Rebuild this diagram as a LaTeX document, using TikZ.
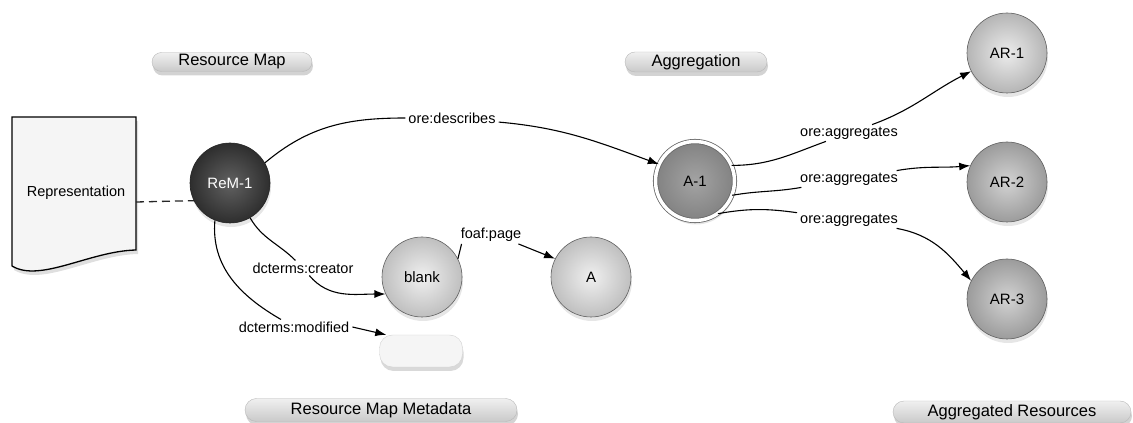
\documentclass[tikz,border=0pt]{standalone}
\usepackage{fontspec}
\setmainfont{Liberation Sans}
\usetikzlibrary{arrows.meta,shapes.misc,shadows}
\begin{document}
\begin{tikzpicture}[x=1pt,y=1pt,>={Latex[length=11pt,width=8pt]},
  res/.style={circle,minimum size=80pt,inner sep=0pt,draw=gray!75!black,line width=0.6pt,
    inner color=gray!12,outer color=gray!50,
    drop shadow={shadow xshift=1pt,shadow yshift=-4pt,opacity=0.2},
    font=\fontsize{15}{17}\selectfont},
  pill/.style={rounded rectangle,draw=gray!55,top color=gray!12,bottom color=gray!42,
    inner xsep=0pt,inner ysep=0pt,
    drop shadow={shadow xshift=1pt,shadow yshift=-4pt,opacity=0.35},
    font=\fontsize{16.5}{18}\selectfont},
  lbl/.style={fill=white,inner xsep=3pt,inner ysep=2pt,font=\fontsize{14.5}{16}\selectfont},
  link/.style={line width=1.1pt}]
\useasboundingbox (0,0) rectangle (1133,423);
\draw[line width=1.3pt,fill=gray!8,drop shadow={shadow xshift=2pt,shadow yshift=-4pt,opacity=0.25}]
  (12,306) -- (136,306) -- (136,173) .. controls (90,172) and (40,140) .. (12,157) -- cycle;
\node[font=\fontsize{14.5}{16}\selectfont] (rep) at (76,230) {Representation};
\coordinate (doc) at (136,221);

\node[pill,minimum width=160pt,minimum height=19pt] (rmap) at (232,361) {Resource Map};
\node[pill,minimum width=142pt,minimum height=20pt] (aggr) at (696,361) {Aggregation};
\node[pill,minimum width=272pt,minimum height=23pt] (meta) at (381,13) {Resource Map Metadata};
\node[pill,minimum width=238pt,minimum height=22pt] (aggres) at (1012,11) {Aggregated Resources};

\node[res,inner color=black!62,outer color=black!82,draw=black!85,text=white] (rem) at (230,240) {ReM-1};
\node[res] (blank) at (422,146) {blank};
\node[res] (A) at (591,146) {A};
\node[res,minimum size=79pt,inner color=gray!72,outer color=gray!98,draw=gray!80!black,
  line width=0.8pt,double=white,double distance=3.5pt] (a1) at (695,242) {A-1};
\node[res,inner color=gray!15,outer color=gray!58] (ar1) at (1007,370) {AR-1};
\node[res,inner color=gray!35,outer color=gray!78] (ar2) at (1007,241) {AR-2};
\node[res,inner color=gray!35,outer color=gray!78] (ar3) at (1007,124) {AR-3};
\node[rectangle,rounded corners=13pt,minimum width=83pt,minimum height=32pt,draw=gray!35,
  fill=gray!8,drop shadow={shadow xshift=1pt,shadow yshift=-4pt,opacity=0.3}] (lit) at (421,72) {};

\node[lbl] (desc) at (452,305) {ore:describes};
\node[lbl] (cre) at (303,155) {dcterms:creator};
\node[lbl] (mod) at (294,96) {dcterms:modified};
\node[lbl] (page) at (491,188) {foaf:page};
\node[lbl] (agg1) at (849,290) {ore:aggregates};
\node[lbl] (agg2) at (849,244) {ore:aggregates};
\node[lbl] (agg3) at (849,203) {ore:aggregates};

\draw[line width=1.3pt,dashed,dash pattern=on 8pt off 5pt,gray!30!black] (doc) -- (rem.206);
\draw[link] (rem.30) to[out=40,in=180] (desc);
\draw[link,->] (desc) to[out=-5,in=160] (a1.155);
\draw[link] (rem.-60) to[out=-60,in=135] (cre);
\draw[link,->] (cre) to[out=-50,in=180] (blank.205);
\draw[link] (rem.-112) to[out=-95,in=150] (mod);
\draw[link,->] (mod.east) -- (lit.155);
\draw[link] (blank.27) -- ([xshift=4pt]page.south west);
\draw[link,->] ([xshift=-6pt]page.south east) -- (A.153);
\draw[link] (a1.23) to[out=0,in=200] (agg1);
\draw[link,->] (agg1) to[out=20,in=207] (ar1.207);
\draw[link] (a1.-21) to[out=10,in=190] (agg2);
\draw[link,->] (agg2) to[out=10,in=185] (ar2.156);
\draw[link] (a1.-55) to[out=10,in=172] (agg3);
\draw[link,->] (agg3) to[out=-10,in=130] (ar3.153);
\end{tikzpicture}
\end{document}
